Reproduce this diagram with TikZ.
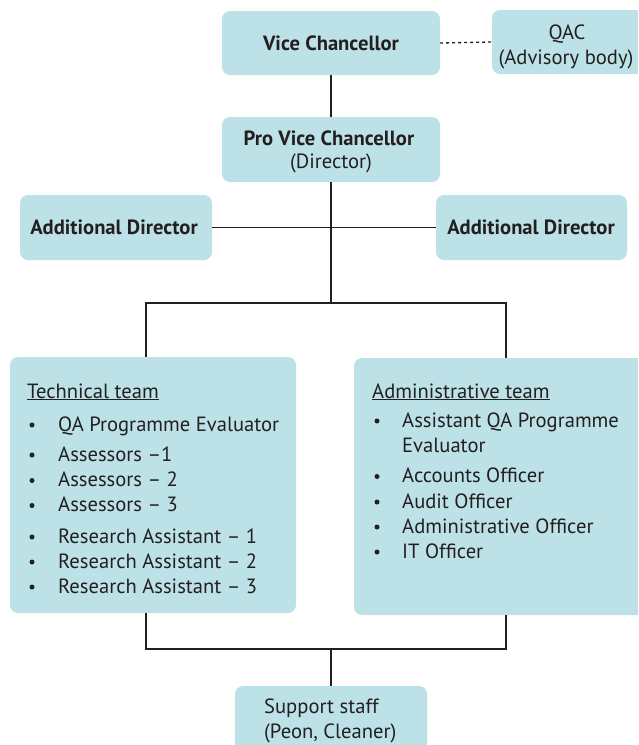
\documentclass[tikz,border=0pt]{standalone}
\usepackage{fontspec}
\setmainfont{PT Sans}
\definecolor{boxfill}{HTML}{BCE2E8}
\definecolor{ink}{HTML}{231F20}
\begin{document}
\begin{tikzpicture}[x=1pt,y=-1pt,
  box/.style={fill=boxfill,rounded corners=8pt},
  link/.style={draw=ink,line width=1.3pt},
  txt/.style={inner sep=0pt,text=ink,font=\fontsize{20.6}{24}\selectfont},
  btxt/.style={txt,font=\fontsize{20.6}{24}\selectfont\bfseries},
  dot/.style={circle,fill=ink,inner sep=0pt,minimum size=5pt}]
\clip (0,0) rectangle (638,745);
% boxes
\path[box] (222,11) rectangle (440,75);
\node (vc) at (331,43) [minimum width=218pt,minimum height=64pt,inner sep=0pt] {};
\path[box] (492,10) rectangle (646,74);
\node (qac) at (569,42) [minimum width=154pt,minimum height=64pt,inner sep=0pt] {};
\path[box] (222,117) rectangle (440,182);
\node (pvc) at (331,149.5) [minimum width=218pt,minimum height=65pt,inner sep=0pt] {};
\path[box] (20,195) rectangle (212,260);
\node (adl) at (116,227.5) [minimum width=192pt,minimum height=65pt,inner sep=0pt] {};
\path[box] (436,195) rectangle (627,260);
\node (adr) at (531.5,227.5) [minimum width=191pt,minimum height=65pt,inner sep=0pt] {};
\path[box] (10,357) rectangle (296,613);
\node (tech) at (153,485) [minimum width=286pt,minimum height=256pt,inner sep=0pt] {};
\path[box] (354,358) rectangle (646,615);
\node (admin) at (500,486.5) [minimum width=292pt,minimum height=257pt,inner sep=0pt] {};
\path[box] (235,686) rectangle (427,770);
\node (sup) at (331,728) [minimum width=192pt,minimum height=84pt,inner sep=0pt] {};

% texts
\node[btxt,anchor=base] (vct) at (331,50.5) {Vice Chancellor};
\node[txt,anchor=base] (qact1) at (567,39) {QAC};
\node[txt,anchor=base] (qact2) at (566,64) {(Advisory body)};
\node[btxt,anchor=base] (pvct1) at (329,145) {Pro Vice Chancellor};
\node[txt,anchor=base] (pvct2) at (331,168) {(Director)};
\node[btxt,anchor=base] (adlt) at (114,234) {Additional Director};
\node[btxt,anchor=base] (adrt) at (531,234) {Additional Director};
\node[txt,anchor=base west] (supt1) at (264,713) {Support staff};
\node[txt,anchor=base west] (supt2) at (264,738) {(Peon, Cleaner)};

% technical team list
\node[txt,anchor=base west] (techh) at (27,398) {\underline{Technical team}};
\foreach \n/\y/\t in {t1/431/QA Programme Evaluator, t2/461/Assessors –1,
  t3/486.5/Assessors – 2, t4/511.5/Assessors – 3, t5/543/Research Assistant – 1,
  t6/568/Research Assistant – 2, t7/593/Research Assistant – 3}{
  \node[dot] (\n b) at (32,\y-6) {};
  \node[txt,anchor=base west] (\n) at (58,\y) {\t};
}
% administrative team list
\node[txt,anchor=base west] (admh) at (372,398) {\underline{Administrative team}};
\node[txt,anchor=base west] (a1) at (402,427) {Assistant QA Programme};
\node[txt,anchor=base west] (a1x) at (402,452.5) {Evaluator};
\foreach \n/\y/\t in {a2/482.5/Accounts Officer, a3/508/Audit Officer,
  a4/533/Administrative Officer, a5/558/IT Officer}{
  \node[dot] (\n b) at (377,\y-6) {};
  \node[txt,anchor=base west] (\n) at (402,\y) {\t};
}
\node[dot] (a1b) at (377,421) {};

% connectors
\draw[link,dash pattern=on 3pt off 3pt] (vc.east) -- (qac.west);
\draw[link] (vc.south) -- (pvc.north);
\draw[link] (adl.east) -- (adr.west);
\coordinate (split) at (331,303);
\coordinate (techin) at (146,357);
\coordinate (adminin) at (506,358);
\coordinate (techout) at (146,613);
\coordinate (adminout) at (506,615);
\draw[link] (pvc.south) -- (split);
\draw[link] (techin) |- (split) -| (adminin);
\coordinate (join) at (331,649);
\draw[link] (techout) |- (join) -| (adminout);
\draw[link] (join) -- (sup.north);
\end{tikzpicture}
\end{document}
